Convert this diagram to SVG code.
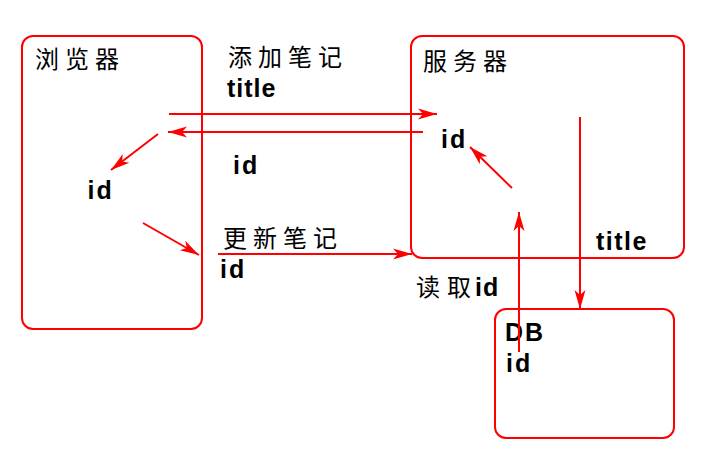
<svg xmlns="http://www.w3.org/2000/svg" width="704" height="463" viewBox="0 0 704 463">
<defs>
<style>
.box{fill:#ffffff;stroke:#ff0000;stroke-width:2}
.ln{fill:none;stroke:#ff0000;stroke-width:2;marker-end:url(#ah)}
.cjk{font-family:"Noto Sans CJK SC","Noto Sans CJK JP",sans-serif;font-size:24px;letter-spacing:6px;fill:#000}
.lat{font-family:"Liberation Sans",Arial,sans-serif;font-size:25px;font-weight:bold;fill:#000}
</style>
<marker id="ah" markerUnits="userSpaceOnUse" markerWidth="22" markerHeight="14" viewBox="-20 -7 22 14" refX="0" refY="0" orient="auto">
<path d="M0,0 L-19,-5.5 L-14,0 L-19,5.5 Z" fill="#ff0000"/>
</marker>
</defs>
<rect width="704" height="463" fill="#ffffff"/>
<g id="browser">
<rect class="box" x="22" y="36" width="180" height="293" rx="11"/>
<text class="cjk" x="35" y="67.5">浏览器</text>
<text class="lat" x="87.5" y="199" letter-spacing="2">id</text>
</g>
<g id="server">
<rect class="box" x="411" y="36" width="273" height="222" rx="11"/>
<text class="cjk" x="423" y="69.5">服务器</text>
<text class="lat" x="441" y="147.5" letter-spacing="2">id</text>
<text class="lat" x="596" y="250" letter-spacing="1.5">title</text>
</g>
<g id="db">
<rect class="box" x="495" y="309" width="179" height="129" rx="11"/>
<text class="lat" x="505" y="341" letter-spacing="2">DB</text>
<text class="lat" x="506" y="372" letter-spacing="2">id</text>
</g>
<g id="connectors">
<path class="ln" d="M169,114 L437,114"/>
<path class="ln" d="M423,132 L168,132"/>
<path class="ln" d="M158,134 L111,170"/>
<path class="ln" d="M143,223 L199,255"/>
<path class="ln" d="M218,254 L412,254"/>
<path class="ln" d="M512,188 L470,147"/>
<path class="ln" d="M580,117 L580,309"/>
<path class="ln" d="M519,352 L519,212"/>
</g>
<g id="labels">
<text class="cjk" x="228" y="65.5">添加笔记</text>
<text class="lat" x="227" y="96.5" letter-spacing="1">title</text>
<text class="lat" x="233" y="174" letter-spacing="2">id</text>
<text class="cjk" x="223" y="247">更新笔记</text>
<text class="lat" x="220" y="278" letter-spacing="2">id</text>
<text class="cjk" style="letter-spacing:0" x="416" y="296">读<tspan dx="7">取</tspan></text>
<text class="lat" x="475" y="296" letter-spacing="1">id</text>
</g>
</svg>
